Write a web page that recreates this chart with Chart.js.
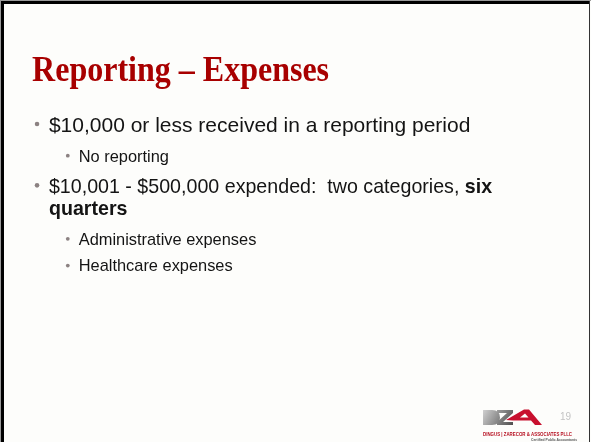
<!doctype html>
<html lang="en">
<head>
<meta charset="utf-8">
<title>Reporting – Expenses</title>
<script src="https://cdn.jsdelivr.net/npm/chart.js@4.4.1/dist/chart.umd.min.js"></script>
<style>
    html, body { margin: 0; padding: 0; background: #fdfdfb; }
    #wrap { width: 591px; height: 442px; }
</style>
</head>
<body>
<div id="wrap"><canvas id="slide" width="591" height="442"></canvas></div>
<script>
    // slide content
    const slideTitle = 'Reporting – Expenses'
    const bulletLevels = [1, 2, 1, 2, 2]
    // each bullet: lines, each line: runs of [text, bold]
    const bulletLines = [
        [[['$10,000 or less received in a reporting period', false]]],
        [[['No reporting', false]]],
        [[['$10,001 - $500,000 expended:  two categories, ', false], ['six', true]], [['quarters', true]]],
        [[['Administrative expenses', false]]],
        [[['Healthcare expenses', false]]]
    ]
    const pageNumber = '19'
    const firmName = 'DINGUS | ZARECOR & ASSOCIATES PLLC'
    const firmTag = 'Certified Public Accountants'

    // layout (pixels)
    const levelStyle = {
        1: {size: 21, textX: 47, dotX: 35, dotUp: 8, dotR: 2.3, asc: 18, desc: 6, lineGap: 22, before: 11},
        2: {size: 16.4, textX: 77, dotX: 66, dotUp: 6, dotR: 1.9, asc: 14, desc: 3, lineGap: 18, before: 10}
    }
    const bulletSqueeze = [1, 1, 0.935, 1, 1]
    const firstBaseline = 131
    const sansFont = '"Liberation Sans", Arial, sans-serif'

    // baselines for every line of every bullet
    const layout = []
    let y = firstBaseline
    bulletLines.forEach((lines, i) => {
        const st = levelStyle[bulletLevels[i]]
        if (i > 0) {
            const prev = levelStyle[bulletLevels[i - 1]]
            y += prev.desc + st.before + st.asc
        }
        const rows = []
        lines.forEach((runs, j) => {
            if (j > 0) y += st.lineGap
            rows.push({runs: runs, y: y})
        })
        layout.push({level: bulletLevels[i], squeeze: bulletSqueeze[i], rows: rows})
    })

    const bulletPoints = layout.map(b => {
        const st = levelStyle[b.level]
        return {x: st.dotX, y: b.rows[0].y - st.dotUp}
    })

    function drawRuns(ctx, runs, x, y, size, squeeze) {
        ctx.save()
        ctx.translate(x, y)
        ctx.scale(squeeze, 1)
        let dx = 0
        runs.forEach(r => {
            ctx.font = (r[1] ? 'bold ' : '') + size + 'px ' + sansFont
            ctx.fillText(r[0], dx, 0)
            dx += ctx.measureText(r[0]).width
        })
        ctx.restore()
    }

    function fitText(ctx, text, x, y, width) {
        const w = ctx.measureText(text).width
        ctx.save()
        ctx.translate(x, y)
        ctx.scale(width / w, 1)
        ctx.fillText(text, 0, 0)
        ctx.restore()
    }

    function drawLogo(ctx) {
        const grey = ctx.createLinearGradient(482, 408, 514, 427)
        grey.addColorStop(0, '#d8d8d8')
        grey.addColorStop(0.5, '#8c8c8c')
        grey.addColorStop(1, '#474747')
        ctx.fillStyle = grey
        // D
        ctx.beginPath()
        ctx.moveTo(483, 410)
        ctx.lineTo(492, 410)
        ctx.quadraticCurveTo(500, 410, 500, 417.5)
        ctx.quadraticCurveTo(500, 425, 492, 425)
        ctx.lineTo(483, 425)
        ctx.closePath()
        ctx.fill()
        // Z
        ctx.beginPath()
        ctx.moveTo(497, 410)
        ctx.lineTo(513, 410)
        ctx.lineTo(513, 413)
        ctx.lineTo(503, 422)
        ctx.lineTo(513, 422)
        ctx.lineTo(513, 425)
        ctx.lineTo(497, 425)
        ctx.lineTo(497, 422)
        ctx.lineTo(507, 413)
        ctx.lineTo(497, 413)
        ctx.closePath()
        ctx.fill()
        // A
        ctx.fillStyle = '#c8102e'
        ctx.beginPath()
        ctx.moveTo(506, 420)
        ctx.lineTo(524, 409.5)
        ctx.lineTo(529, 409.5)
        ctx.lineTo(542, 425)
        ctx.lineTo(535, 425)
        ctx.lineTo(531, 420.5)
        ctx.lineTo(513, 420.5)
        ctx.closePath()
        ctx.fill()
        ctx.fillStyle = '#fdfdfb'
        ctx.beginPath()
        ctx.moveTo(520, 417.5)
        ctx.lineTo(525, 413.5)
        ctx.lineTo(528.5, 417.5)
        ctx.closePath()
        ctx.fill()
        // firm name
        ctx.textBaseline = 'alphabetic'
        ctx.fillStyle = '#b50d1e'
        ctx.font = 'bold 6px ' + sansFont
        fitText(ctx, firmName, 483, 436, 89)
        ctx.fillStyle = '#555555'
        ctx.font = 'bold 3.5px ' + sansFont
        fitText(ctx, firmTag, 531, 440.5, 46)
    }

    const slidePlugin = {
        id: 'slide',
        beforeDraw(chart) {
            const ctx = chart.ctx
            ctx.save()
            ctx.fillStyle = '#fdfdfb'
            ctx.fillRect(0, 0, chart.width, chart.height)
            // frame
            ctx.fillStyle = '#9a9a9a'
            ctx.fillRect(0, 0, chart.width, 1)
            ctx.fillRect(0, 0, 1, chart.height)
            ctx.fillStyle = '#000000'
            ctx.fillRect(1, 1, chart.width - 2, 3)
            ctx.fillRect(1, 1, 3, chart.height - 1)
            ctx.fillStyle = '#333333'
            ctx.fillRect(chart.width - 2, 1, 1, chart.height - 1)
            ctx.restore()
        },
        afterDraw(chart) {
            const ctx = chart.ctx
            const xs = chart.scales.x
            const ys = chart.scales.y
            ctx.save()
            ctx.textBaseline = 'alphabetic'
            // title
            ctx.fillStyle = '#a80000'
            ctx.font = 'bold 35px "Liberation Serif", "Times New Roman", serif'
            fitText(ctx, slideTitle, xs.getPixelForValue(30), ys.getPixelForValue(80), 297)
            // bullet text
            ctx.fillStyle = '#141414'
            layout.forEach(b => {
                const st = levelStyle[b.level]
                b.rows.forEach(row => {
                    drawRuns(ctx, row.runs, xs.getPixelForValue(st.textX), ys.getPixelForValue(row.y), st.size, b.squeeze)
                })
            })
            // page number
            ctx.fillStyle = '#c4c4c4'
            ctx.font = '10px ' + sansFont
            ctx.fillText(pageNumber, xs.getPixelForValue(562), ys.getPixelForValue(422))
            drawLogo(ctx)
            ctx.restore()
        }
    }

    new Chart(document.getElementById('slide'), {
        type: 'scatter',
        data: {
            datasets: [{
                data: bulletPoints,
                pointRadius: c => levelStyle[bulletLevels[c.dataIndex]].dotR,
                pointBackgroundColor: '#8c8282',
                pointBorderWidth: 0,
                pointHoverRadius: 0
            }]
        },
        options: {
            responsive: false,
            animation: false,
            layout: {padding: 0},
            events: [],
            plugins: {
                legend: {display: false},
                tooltip: {enabled: false},
                title: {display: false}
            },
            scales: {
                x: {type: 'linear', min: 0, max: 591, display: false},
                y: {type: 'linear', min: 0, max: 442, reverse: true, display: false}
            }
        },
        plugins: [slidePlugin]
    })
</script>
</body>
</html>
